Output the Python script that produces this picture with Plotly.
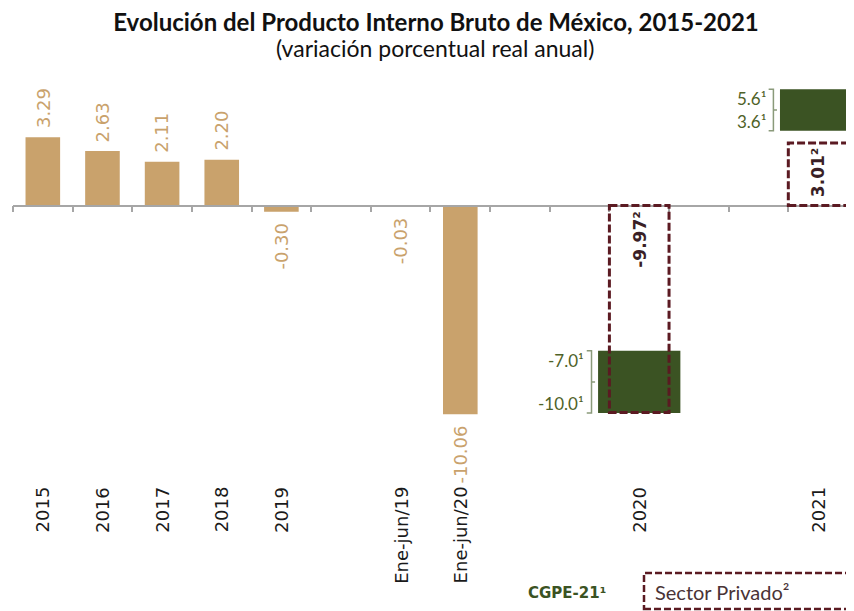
import plotly.graph_objects as go

# ---------------- data ----------------
categories = ["2015", "2016", "2017", "2018", "2019", "", "Ene-jun/19", "Ene-jun/20",
              "", "", "2020", "", "", "2021"]
hist_pos = [0, 1, 2, 3, 4, 6, 7]
hist_vals = [3.29, 2.63, 2.11, 2.20, -0.30, -0.03, -10.06]
hist_text = ["3.29", "2.63", "2.11", "2.20", "-0.30", "-0.03", "-10.06"]

cgpe_pos = [10, 13]
cgpe_low = [-10.0, 3.6]
cgpe_high = [-7.0, 5.6]
cgpe_low_text = ["-10.0¹", "3.6¹"]
cgpe_high_text = ["-7.0¹", "5.6¹"]

priv_pos = [10, 13]
priv_vals = [-9.97, 3.01]
priv_text = ["-9.97²", "3.01²"]

TAN = "#C9A26C"
GREEN = "#3B5323"
GREEN_TXT = "#4F6228"
MAROON = "#5B1A22"
AXIS = "#A6A6A6"

# geometry (page pixels; the page body has an 8px margin)
OFF = 8
W, H = 854 - OFF, 611 - OFF
ML, MR, MT, MB = 13 - OFF, 0, 70 - OFF, 0
PX_PER_CAT = 59.64
PX_PER_UNIT = 20.75
ZERO_PX = 205.5 - OFF
xmin = -0.5
xmax = xmin + (W - ML - MR) / PX_PER_CAT
ymax = (ZERO_PX - MT) / PX_PER_UNIT
ymin = -(H - MB - ZERO_PX) / PX_PER_UNIT
zero_pos = (0 - ymin) / (ymax - ymin)


def px_x(px):
    return (px - OFF - ML) / (W - ML - MR)


def px_y(py):
    return (H - MB - (py - OFF)) / (H - MT - MB)


fig = go.Figure()

# historical bars
fig.add_trace(go.Bar(
    x=hist_pos, y=hist_vals, width=0.58,
    marker=dict(color=TAN, line=dict(width=0)),
    showlegend=False, hoverinfo="skip",
))

# CGPE range bars
fig.add_trace(go.Bar(
    x=cgpe_pos, base=cgpe_low,
    y=[h - l for h, l in zip(cgpe_high, cgpe_low)],
    width=[1.38, 1.28],
    marker=dict(color=GREEN, line=dict(width=0)),
    showlegend=False, hoverinfo="skip",
))

annotations = []
shapes = []

# value labels for historical bars
for xp, v, t in zip(hist_pos, hist_vals, hist_text):
    annotations.append(dict(
        x=xp, y=v, xref="x", yref="y", text=t, showarrow=False, textangle=-90,
        yanchor="bottom" if v >= 0 else "top", xanchor="center",
        yshift=7 if v >= 0 else -9,
        font=dict(family="DejaVu Sans", size=18, color=TAN),
    ))

# category labels
for i, c in enumerate(categories):
    if not c:
        continue
    annotations.append(dict(
        x=i, y=-13.45, xref="x", yref="y", text=c, showarrow=False, textangle=-90,
        yanchor="top", xanchor="center",
        font=dict(family="DejaVu Sans", size=18, color="#1a1a1a"),
    ))

# dashed boxes for private sector
for xp, v, t in zip(priv_pos, priv_vals, priv_text):
    shapes.append(dict(
        type="rect", xref="x", yref="y", x0=xp - 0.5, x1=xp + 0.5, y0=0, y1=v,
        line=dict(color=MAROON, width=3, dash="8px,3px"), fillcolor="rgba(0,0,0,0)",
        layer="above",
    ))
    annotations.append(dict(
        x=xp, y=0, xref="x", yref="y", text="<b>" + t + "</b>", showarrow=False,
        textangle=-90, xanchor="center",
        yanchor="bottom" if v >= 0 else "top", yshift=6 if v >= 0 else -4,
        font=dict(family="DejaVu Sans", size=17, color="#3a1f26"),
    ))

# CGPE labels and brackets
half_w = [1.38 / 2, 1.28 / 2]
for xp, lo, hi, lt, ht, hw in zip(cgpe_pos, cgpe_low, cgpe_high, cgpe_low_text, cgpe_high_text, half_w):
    left = xp - hw
    bx = left - 0.11
    sx = bx - 0.08
    nx = bx + 0.06
    mid = (lo + hi) / 2
    shapes.append(dict(
        type="path", xref="x", yref="y",
        path=f"M {sx},{hi} L {bx},{hi} L {bx},{lo} L {sx},{lo} M {bx},{mid} L {nx},{mid}",
        line=dict(color="#8A9A7A", width=1.5),
    ))
    annotations.append(dict(
        x=sx, y=hi, xref="x", yref="y", text=ht, showarrow=False,
        xanchor="right", yanchor="top", xshift=-1, yshift=3,
        font=dict(family="Lato", size=17, color=GREEN_TXT),
    ))
    annotations.append(dict(
        x=sx, y=lo, xref="x", yref="y", text=lt, showarrow=False,
        xanchor="right", yanchor="bottom", xshift=-1, yshift=-3,
        font=dict(family="Lato", size=17, color=GREEN_TXT),
    ))

# legend-like labels at the bottom
annotations.append(dict(
    x=px_x(608), y=px_y(593), xref="paper", yref="paper",
    text="<b>CGPE-21¹</b>", showarrow=False, xanchor="right", yanchor="middle",
    font=dict(family="DejaVu Sans", size=15, color=GREEN),
))
shapes.append(dict(
    type="rect", xref="paper", yref="paper",
    x0=px_x(644), x1=px_x(870), y0=px_y(609), y1=px_y(573),
    line=dict(color=MAROON, width=2.5, dash="7px,3px"), fillcolor="rgba(0,0,0,0)",
))
annotations.append(dict(
    x=px_x(653), y=px_y(592), xref="paper", yref="paper",
    text="Sector Privado²", showarrow=False, xanchor="left", yanchor="middle",
    font=dict(family="Lato", size=20, color="#4a3336"),
))

# subtitle
annotations.append(dict(
    x=px_x(435), y=px_y(48), xref="paper", yref="paper",
    text="(variación porcentual real anual)", showarrow=False,
    xanchor="center", yanchor="middle",
    font=dict(family="Lato", size=23, color="#111111"),
))

fig.update_layout(
    width=W, height=H,
    margin=dict(l=ML, r=MR, t=MT, b=MB),
    paper_bgcolor="white", plot_bgcolor="white",
    title=dict(
        text="<b>Evolución del Producto Interno Bruto de México, 2015-2021</b>",
        x=(436 - OFF) / W, xanchor="center", xref="container",
        y=1 - (23 - OFF) / H, yanchor="middle", yref="container",
        font=dict(family="Lato", size=24, color="#111111"),
    ),
    barmode="overlay",
    showlegend=False,
    xaxis=dict(
        range=[xmin, xmax], anchor="free", position=zero_pos,
        showline=True, linecolor=AXIS, linewidth=1.5,
        ticks="outside", ticklen=6, tickcolor=AXIS, tickwidth=1.5,
        tickmode="array", tickvals=[i - 0.5 for i in range(len(categories) + 1)],
        showticklabels=False, showgrid=False, zeroline=False, fixedrange=True,
    ),
    yaxis=dict(range=[ymin, ymax], visible=False, fixedrange=True),
    annotations=annotations,
    shapes=shapes,
)

fig.write_html("out.html")
